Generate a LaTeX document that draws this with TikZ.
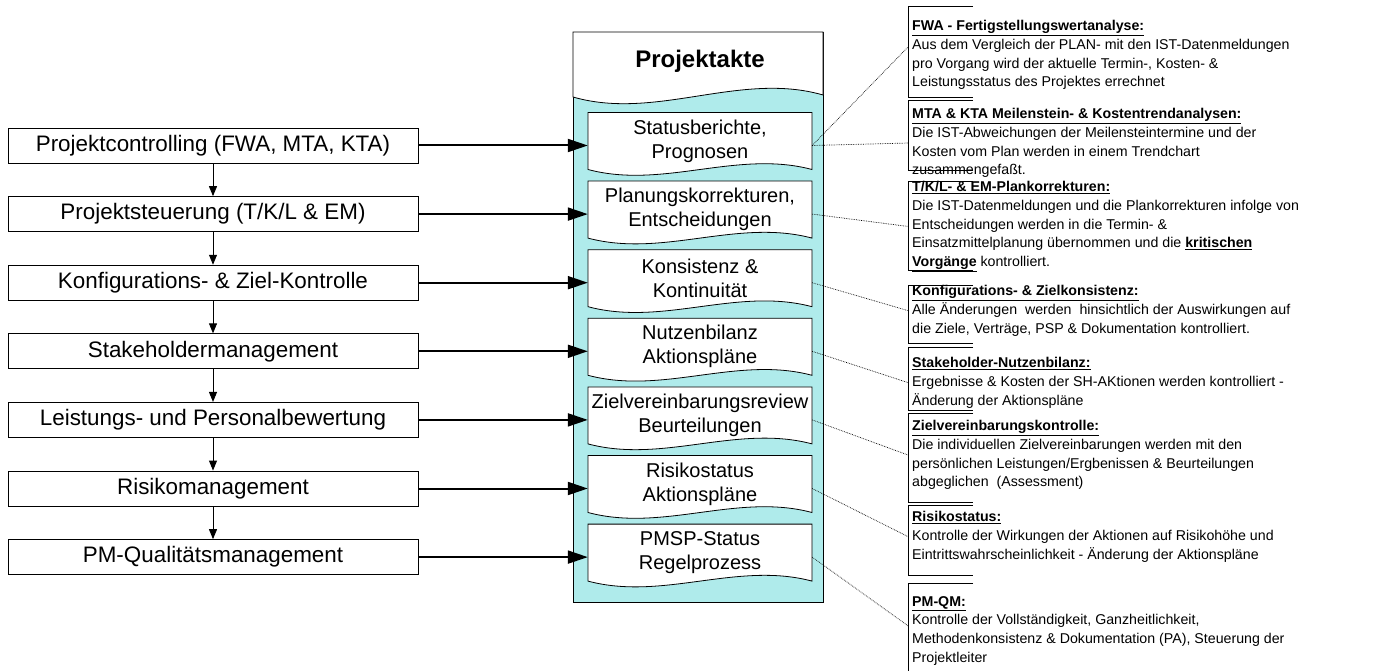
\documentclass[tikz,border=0pt]{standalone}
\usepackage{fontspec}
\setmainfont{Liberation Sans}
\usepackage{tikz}
\usetikzlibrary{arrows.meta}
\usetikzlibrary{calc}

\definecolor{aktecyan}{RGB}{175,235,235}

\begin{document}
\begin{tikzpicture}[
        x=1pt, y=-1pt, % Coordenadas en pixeles, eje y hacia abajo
        font=\fontsize{14.2}{18.8}\selectfont, % Fuente de las notas
        caja/.style={draw, line width=0.9pt, minimum width=410pt, minimum height=35pt,
          inner sep=0pt, font=\fontsize{22.4}{26}\selectfont}, % Cajas de la izquierda
        hoja/.style={minimum width=224pt, minimum height=57pt, inner sep=0pt,
          align=center, font=\fontsize{20}{24}\selectfont}, % Documentos de la Projektakte
        nota/.style={anchor=north west, inner xsep=4pt, inner ysep=0pt, align=left}, % Notas de la derecha
        paso/.style={-{Triangle[length=10pt, width=8pt]}, line width=0.9pt}, % Flechas entre cajas
        envio/.style={-{Triangle[length=20pt, width=13pt]}, line width=2pt}, % Flechas hacia la carpeta
        enlace/.style={densely dotted, line width=0.7pt}, % Lineas punteadas
        marco/.style={line width=0.8pt}, % Bordes finos
    ]
    \useasboundingbox (0,0) rectangle (1392,671);

    % --- Carpeta Projektakte ---
    \draw[marco, fill=aktecyan] (573,32) rectangle (823,602);
    \draw[marco, fill=white] (573,32) -- (823,32) -- (823,95)
        .. controls (740,71) and (656,121) .. (573,97) -- cycle;
    \node[anchor=base, font=\bfseries\fontsize{24}{28}\selectfont] (titulo) at (700,68) {Projektakte};

    % --- Documentos dentro de la carpeta ---
    \foreach \i/\txt in {1/{Statusberichte,\\Prognosen}, 2/{Planungskorrekturen,\\Entscheidungen},
        3/{Konsistenz \&\\Kontinuität}, 4/{Nutzenbilanz\\Aktionspläne},
        5/{Zielvereinbarungsreview\\Beurteilungen}, 6/{Risikostatus\\Aktionspläne},
        7/{PMSP-Status\\Regelprozess}}{
        \pgfmathsetmacro\ymit{72.4+68.6*\i}
        \draw[marco, fill=white] (588,\ymit-28.5) -- (812,\ymit-28.5) -- (812,\ymit+28.5)
            .. controls (737,\ymit+8.5) and (663,\ymit+48.5) .. (588,\ymit+28.5) -- cycle;
        \node[hoja] (akte\i) at (700,\ymit) {\txt};
    }

    % --- Cajas de la izquierda ---
    \foreach \i/\txt in {1/{Projektcontrolling (FWA, MTA, KTA)}, 2/{Projektsteuerung (T/K/L \& EM)},
        3/{Konfigurations- \& Ziel-Kontrolle}, 4/{Stakeholdermanagement},
        5/{Leistungs- und Personalbewertung}, 6/{Risikomanagement}, 7/{PM-Qualitätsmanagement}}
        \node[caja] (links\i) at (213,{76.9+68.6*\i}) {\txt};

    % --- Flechas ---
    \foreach \i in {1,...,6}{
        \pgfmathtruncatemacro\j{\i+1}
        \draw[paso] (links\i) -- (links\j);
    }
    \foreach \i in {1,...,7}
        \draw[envio] (links\i.east) -- (links\i.east -| akte\i.west);

    % --- Bordes de las notas ---
    \foreach \arriba/\abajo in {6/97, 100/170, 181/270, 285/343, 347/410, 413/502, 505/575}
        \draw[marco] (973,\arriba) -- (908,\arriba) -- (908,\abajo) -- (973,\abajo);
    \draw[marco] (973,583) -- (908,583) -- (908,671);

    % --- Notas ---
    \node[nota] (fwa) at (908,20) {\underline{\textbf{FWA - Fertigstellungswertanalyse:}}\\
        Aus dem Vergleich der PLAN- mit den IST-Datenmeldungen\\
        pro Vorgang wird der aktuelle Termin-, Kosten- \&\\
        Leistungsstatus des Projektes errechnet};
    \node[nota] (mta) at (908,108) {\underline{\textbf{MTA \& KTA Meilenstein- \& Kostentrendanalysen:}}\\
        Die IST-Abweichungen der Meilensteintermine und der\\
        Kosten vom Plan werden in einem Trendchart\\
        zusammengefaßt.};
    \node[nota] (tkl) at (908,181) {\underline{\textbf{T/K/L- \& EM-Plankorrekturen:}}\\
        Die IST-Datenmeldungen und die Plankorrekturen infolge von\\
        Entscheidungen werden in die Termin- \&\\
        Einsatzmittelplanung übernommen und die \underline{\textbf{kritischen}}\\
        \underline{\textbf{Vorgänge}} kontrolliert.};
    \node[nota] (konf) at (908,285) {\underline{\textbf{Konfigurations- \& Zielkonsistenz:}}\\
        Alle Änderungen\ \ werden\ \ hinsichtlich der Auswirkungen auf\\
        die Ziele, Verträge, PSP \& Dokumentation kontrolliert.};
    \node[nota] (nutzen) at (908,357) {\underline{\textbf{Stakeholder-Nutzenbilanz:}}\\
        Ergebnisse \& Kosten der SH-AKtionen werden kontrolliert -\\
        Änderung der Aktionspläne};
    \node[nota] (ziel) at (908,420) {\underline{\textbf{Zielvereinbarungskontrolle:}}\\
        Die individuellen Zielvereinbarungen werden mit den\\
        persönlichen Leistungen/Ergbenissen \& Beurteilungen\\
        abgeglichen\ \ (Assessment)};
    \node[nota] (risiko) at (908,511) {\underline{\textbf{Risikostatus:}}\\
        Kontrolle der Wirkungen der Aktionen auf Risikohöhe und\\
        Eintrittswahrscheinlichkeit - Änderung der Aktionspläne};
    \node[nota] (pmqm) at (908,596) {\underline{\textbf{PM-QM:}}\\
        Kontrolle der Vollständigkeit, Ganzheitlichkeit,\\
        Methodenkonsistenz \& Dokumentation (PA), Steuerung der\\
        Projektleiter};

    % --- Lineas punteadas hacia las notas ---
    \draw[enlace] (links1.east -| akte1.east) -- ([yshift=8pt]fwa.west);
    \draw[enlace] (links1.east -| akte1.east) -- (mta.west);
    \foreach \i/\destino in {2/tkl, 3/konf, 4/nutzen, 5/ziel, 6/risiko}
        \draw[enlace] (links\i.east -| akte\i.east) -- (\destino.west);
    \draw[enlace] (links7.east -| akte7.east) -- ([yshift=5pt]pmqm.west);
\end{tikzpicture}
\end{document}
